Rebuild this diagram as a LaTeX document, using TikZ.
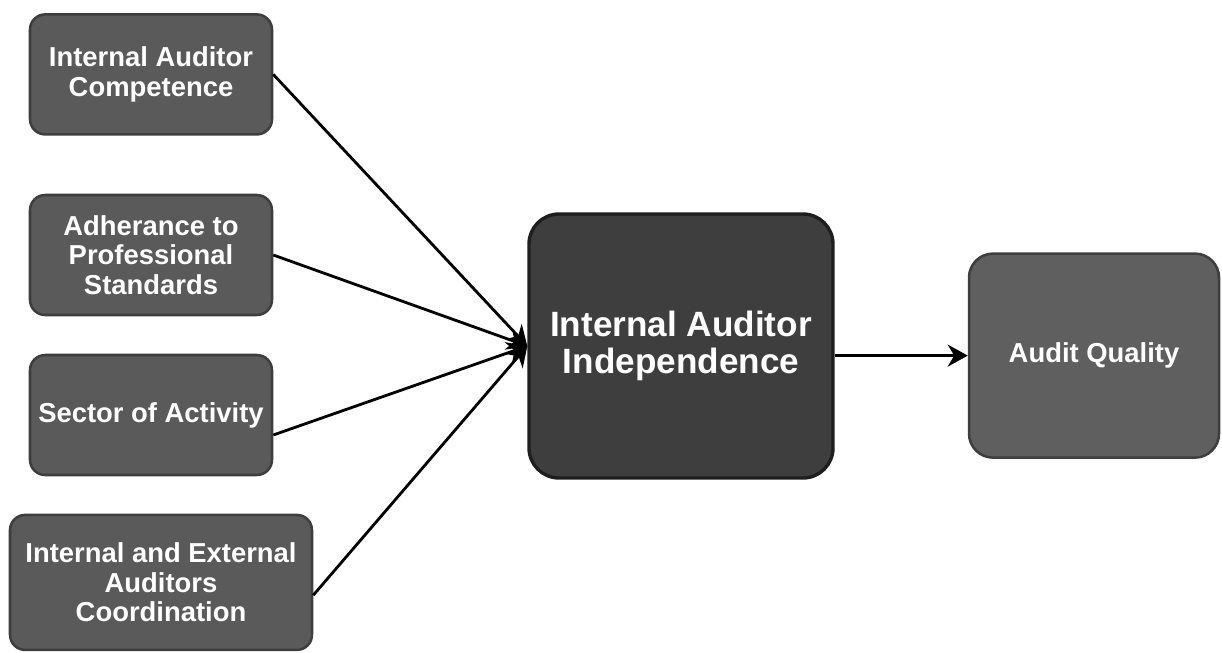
\documentclass[tikz,border=0pt]{standalone}
\usepackage{fontspec}
\setmainfont{Liberation Sans}
\usepackage{xcolor}
\usetikzlibrary{arrows.meta, positioning}

\definecolor{factorgray}{RGB}{90,90,90}
\definecolor{factoredge}{RGB}{62,62,62}
\definecolor{coregray}{RGB}{62,62,62}
\definecolor{coreedge}{RGB}{30,30,30}
\definecolor{outgray}{RGB}{95,95,95}

\begin{document}
\begin{tikzpicture}[
    factor/.style={rectangle, draw=factoredge, line width=1.8pt, rounded corners=0.38cm, fill=factorgray, text=white, align=center, minimum width=6.05cm, minimum height=3cm, font=\bfseries\fontsize{19.5}{21}\selectfont},
    core/.style={rectangle, draw=coreedge, line width=2.4pt, rounded corners=0.75cm, fill=coregray, text=white, align=center, minimum width=7.6cm, minimum height=6.6cm, font=\bfseries\fontsize{25}{26.5}\selectfont},
    outcome/.style={factor, fill=outgray, rounded corners=0.6cm, minimum width=6.25cm, minimum height=5.1cm},
    arrow/.style={-{Stealth[length=0.5cm, width=0.55cm]}, line width=2pt, black}
]
\useasboundingbox (0,0) rectangle (30.55,-16.3);

% Factors
\node[factor] (comp) at (3.775, -1.86) {Internal Auditor\\Competence};
\node[factor] (adher) at (3.775, -6.375) {Adherance to\\Professional\\Standards};
\node[factor] (sector) at (3.775, -10.375) {Sector of Activity};
\node[factor, minimum width=7.55cm, minimum height=3.375cm] (coord) at (4.025, -14.56) {Internal and External\\Auditors\\Coordination};

% Mediator and outcome
\node[core] (indep) at (17.025, -8.65) {Internal Auditor\\Independence};
\node[outcome] (quality) at (27.35, -8.89) {Audit Quality};

\draw[arrow] (comp.east) -- (indep.west);
\draw[arrow] (adher.east) -- (indep.west);
\draw[arrow] ([yshift=-0.5cm]sector.east) -- (indep.west);
\draw[arrow] ([yshift=-0.32cm]coord.east) -- (indep.west);

\draw[arrow] (indep.east |- quality.west) -- (quality.west);

\end{tikzpicture}
\end{document}
